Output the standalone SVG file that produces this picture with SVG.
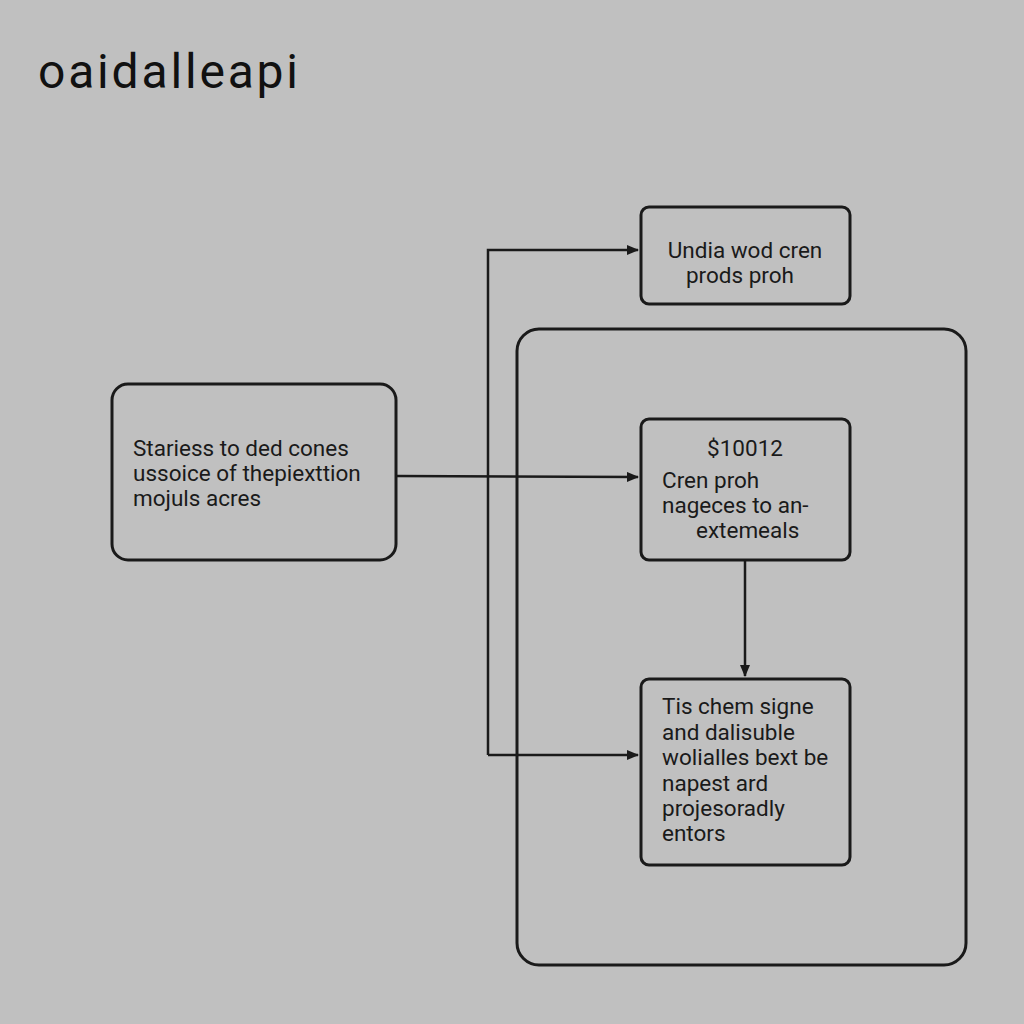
<svg xmlns="http://www.w3.org/2000/svg" width="1024" height="1024" viewBox="0 0 1024 1024">
<style>
.n{fill:none;stroke:#1a1a1a;stroke-width:3}
.t{font-family:Roboto,"Liberation Sans",sans-serif;font-size:22.5px;fill:#1a1a1a}
.c{fill:none;stroke:#1a1a1a;stroke-width:2.5}
</style>
<defs><marker id="a" markerWidth="12" markerHeight="10" refX="11" refY="5" orient="auto" markerUnits="userSpaceOnUse"><path d="M0,0L12,5L0,10z" fill="#1a1a1a"/></marker></defs>
<rect width="1024" height="1024" fill="#c0c0c0"/>
<text x="38" y="88" font-family="Roboto,'Liberation Sans',sans-serif" font-size="48" textLength="260" fill="#111">oaidalleapi</text>
<g id="container"><rect class="n" x="517" y="329" width="449" height="636" rx="22"/></g>
<g id="left"><rect class="n" x="112" y="384" width="284" height="176" rx="16"/>
<text class="t" x="133" y="456">Stariess to ded cones</text><text class="t" x="133" y="481">ussoice of thepiexttion</text><text class="t" x="133" y="506">mojuls acres</text></g>
<g id="top"><rect class="n" x="641" y="207" width="209" height="97" rx="8"/>
<text class="t" x="745" y="258" text-anchor="middle">Undia wod cren</text><text class="t" x="740" y="283" text-anchor="middle">prods proh</text></g>
<g id="mid"><rect class="n" x="641" y="419" width="209" height="141" rx="8"/>
<text class="t" x="745" y="456" text-anchor="middle">$10012</text><text class="t" x="662" y="488">Cren proh</text><text class="t" x="662" y="513">nageces to an-</text><text class="t" x="696" y="538">extemeals</text></g>
<g id="bottom"><rect class="n" x="641" y="679" width="209" height="186" rx="8"/>
<text class="t" x="662" y="714">Tis chem signe</text><text class="t" x="662" y="740">and dalisuble</text><text class="t" x="662" y="765">wolialles bext be</text><text class="t" x="662" y="791">napest ard</text><text class="t" x="662" y="816">projesoradly</text><text class="t" x="662" y="841">entors</text></g>
<g id="connectors">
<path class="c" d="M396,476L638,477" marker-end="url(#a)"/>
<path class="c" d="M488,755L488,250L638,250" marker-end="url(#a)"/>
<path class="c" d="M488,755L638,755" marker-end="url(#a)"/>
<path class="c" d="M745,560L745,676" marker-end="url(#a)"/>
</g>
</svg>
